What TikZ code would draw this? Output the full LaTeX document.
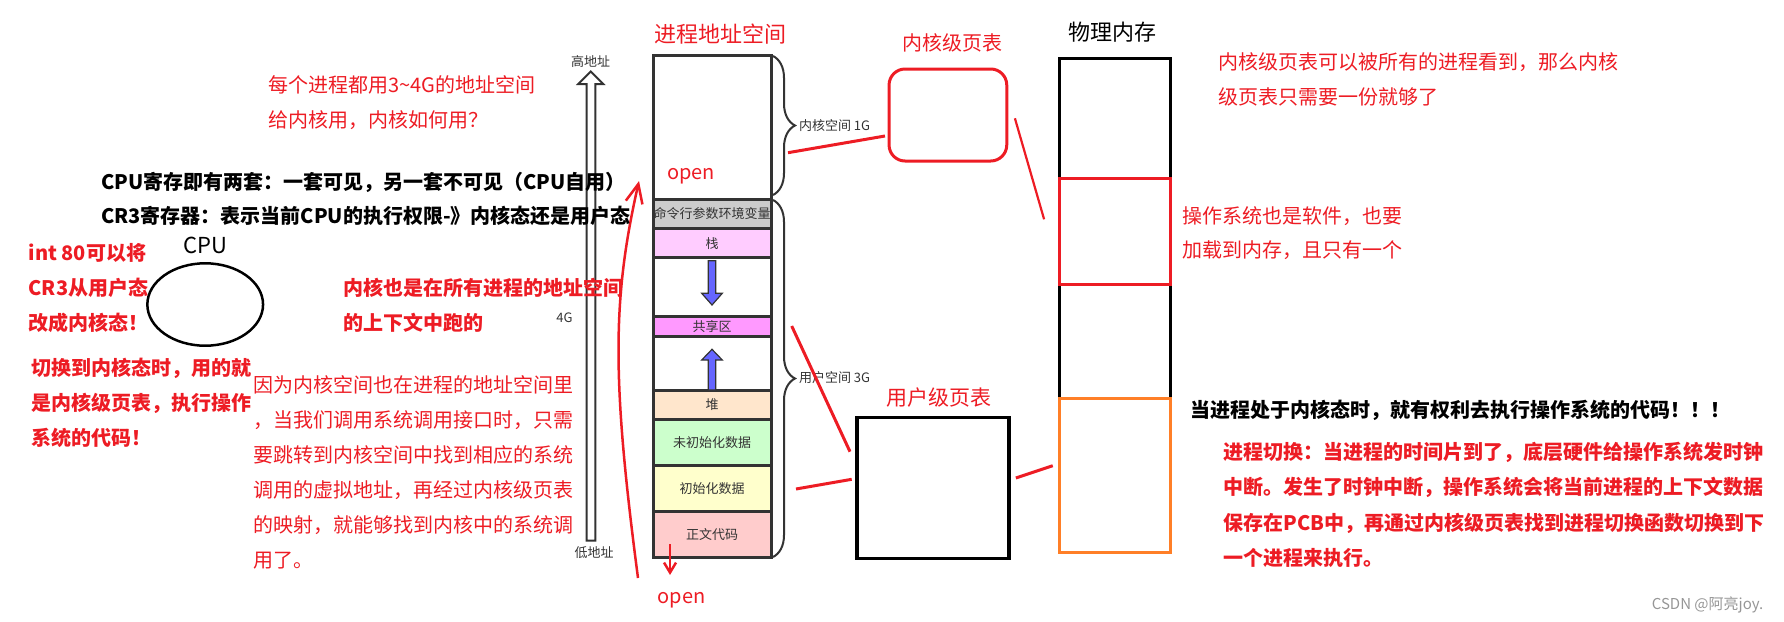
\documentclass[tikz,border=0pt]{standalone}
\usepackage{fontspec}
\setmainfont{Noto Sans CJK SC}
\usetikzlibrary{decorations.pathreplacing,arrows.meta,shapes.geometric}
\definecolor{pred}{RGB}{237,28,36}
\definecolor{porange}{RGB}{255,127,39}
\definecolor{dgray}{RGB}{51,51,51}
\definecolor{cmdgray}{RGB}{204,204,204}
\definecolor{stackc}{RGB}{255,204,255}
\definecolor{sharec}{RGB}{255,153,255}
\definecolor{heapc}{RGB}{255,230,204}
\definecolor{bssc}{RGB}{204,255,204}
\definecolor{datac}{RGB}{255,255,204}
\definecolor{codec}{RGB}{255,204,204}
\definecolor{arrowblue}{RGB}{102,102,255}
\definecolor{wmgray}{RGB}{150,150,150}
\begin{document}
\begin{tikzpicture}[x=1pt,y=-1pt,
  every node/.style={inner sep=0pt,outer sep=0pt},
  note/.style={anchor=base west,align=left,font=\fontsize{20}{35}\selectfont},
  notebold/.style={note,font=\fontsize{20}{35}\selectfont\bfseries},
  small/.style={font=\fontsize{13}{15}\selectfont,text=dgray},
  seg/.style={draw=dgray,line width=3pt,minimum width=118pt},
  barrow/.style={draw=dgray,line width=1.2pt,fill=arrowblue,line join=miter},
  bracestyle/.style={draw=dgray,line width=2pt,decorate,decoration={brace,amplitude=22pt}},
  redline/.style={draw=pred,line width=3pt},
  title/.style={font=\fontsize{21}{24}\selectfont}
]
\useasboundingbox (0,0) rectangle (1784,621);

% ---------- address arrow ----------
\draw[dgray,line width=2pt,line join=miter]
  (586.7,540.5) -- (586.7,84) -- (578.3,84) -- (590.8,71.5) -- (603.3,84)
  -- (595.3,84) -- (595.3,540.5) -- cycle;
\node[small,anchor=center] (hi) at (590.7,61.7) {高地址};
\node[small,anchor=center] (lo) at (594,552.3) {低地址};
\node[small,anchor=center] (fourg) at (564.5,317.3) {4G};

% ---------- process address space ----------
\node[title,text=pred] (pastitle) at (720,34) {\fontsize{22}{24}\selectfont 进程地址空间};
\node[seg,minimum height=143.6pt] (kspace) at (712,127.5) {};
\node[seg,fill=cmdgray,minimum height=29.4pt,small] (cmd) at (712,214) {命令行参数环境变量};
\node[seg,fill=stackc,minimum height=29pt,small] (stack) at (712,243.2) {栈};
\node[seg,minimum height=59pt] (gapa) at (712,287.2) {};
\node[seg,fill=sharec,minimum height=20pt,small] (share) at (712,326.7) {共享区};
\node[seg,minimum height=54pt] (gapb) at (712,363.7) {};
\node[seg,fill=heapc,minimum height=28.6pt,small] (heap) at (712,405) {堆};
\node[seg,fill=bssc,minimum height=46.4pt,small] (bss) at (712,442.5) {未初始化数据};
\node[seg,fill=datac,minimum height=46pt,small] (data) at (712,488.7) {初始化数据};
\node[seg,fill=codec,minimum height=46pt,small] (code) at (712,534.7) {正文代码};

% blue growth arrows
\draw[barrow] (708.3,260.7) -- (715.7,260.7) -- (715.7,293.3) -- (722.3,293.3)
  -- (712,305) -- (701.7,293.3) -- (708.3,293.3) -- cycle;
\draw[barrow] (708.3,390) -- (708.3,360) -- (701.7,360) -- (712,349.3)
  -- (722.3,360) -- (715.7,360) -- (715.7,390) -- cycle;

% braces
\draw[bracestyle] (773,56) -- (773,195);
\draw[bracestyle] (773,200) -- (773,557);
\node[small,anchor=west] (kslabel) at (799,126) {内核空间 1G};
\node[small,anchor=west] (uslabel) at (799,377.3) {用户空间 3G};

% open labels and red arrows
\node[text=pred,font=\fontsize{20}{24}\selectfont] (openup) at (691,176.7) {open};
\node[text=pred,font=\fontsize{20}{24}\selectfont] (opendown) at (681.5,600) {open};
\coordinate (cs) at (638,578);
\coordinate (ct) at (639,181);
\draw[pred,line width=2.5pt,-{Straight Barb[length=19pt,width=17pt]}]
  (cs) .. controls (612,380) and (612,300) .. (ct);
\coordinate (ds) at (670,544);
\coordinate (dt) at (670,575);
\draw[pred,line width=2.5pt,-{Straight Barb[length=10pt,width=12pt]}] (ds) -- (dt);

% ---------- page tables ----------
\node[draw=pred,line width=3pt,rounded corners=16pt,minimum width=117.7pt,minimum height=92pt] (kpt) at (947.9,115) {};
\node[title,text=pred,font=\fontsize{20}{24}\selectfont] (kptl) at (952,43) {内核级页表};
\node[draw=black,line width=3.5pt,minimum width=152pt,minimum height=141pt] (upt) at (933,487.8) {};
\node[title,text=pred] (uptl) at (939,397.7) {用户级页表};

% ---------- physical memory ----------
\node[title,font=\fontsize{22}{24}\selectfont] (pml) at (1112.3,31.7) {物理内存};
\node[draw=black,line width=3pt,minimum width=111.3pt,minimum height=494.4pt] (pm) at (1115.15,305.5) {};
\node[draw=pred,line width=3pt,minimum width=111.3pt,minimum height=105.7pt] (osreg) at (1115.15,231.15) {};
\node[draw=porange,line width=3pt,minimum width=111.3pt,minimum height=154.4pt] (procreg) at (1115.15,475.5) {};

% red mapping lines
\coordinate (ka) at (788,152.7);
\coordinate (kb) at (885,136);
\draw[redline] (ka) -- (kb);
\coordinate (kc) at (1014.9,118.3);
\coordinate (kd) at (1044.1,219.3);
\draw[pred,line width=2.2pt] (kc) -- (kd);
\coordinate (ua) at (791.7,326);
\coordinate (ub) at (850,451.7);
\draw[redline] (ua) -- (ub);
\coordinate (uc) at (796,489);
\coordinate (ud) at (851.7,479.3);
\draw[redline] (uc) -- (ud);
\coordinate (ue) at (1015.9,478);
\coordinate (uf) at (1052.8,465.7);
\draw[redline] (ue) -- (uf);

% ---------- CPU ----------
\node[font=\fontsize{22}{24}\selectfont] (cpul) at (205,245) {CPU};
\node[draw=black,line width=2.5pt,ellipse,minimum width=115.7pt,minimum height=82.4pt] (cpu) at (205.2,304.5) {};

% ---------- notes (anchor = baseline of the last line) ----------
\node[note,text=pred] (n1) at (268.5,127.6) {每个进程都用3\textasciitilde4G的地址空间\\给内核用，内核如何用？};
\node[notebold,font=\fontsize{20}{34}\selectfont\bfseries] (n2) at (101,223.3) {CPU寄存即有两套：一套可见，另一套不可见（CPU自用）\\CR3寄存器：表示当前CPU的执行权限-》内核态还是用户态};
\node[notebold,text=pred] (n3) at (28.6,330.9) {int 80可以将\\CR3从用户态\\改成内核态！};
\node[notebold,text=pred] (n4) at (31.6,445.9) {切换到内核态时，用的就\\是内核级页表，执行操作\\系统的代码！};
\node[notebold,text=pred] (n5) at (343,330.9) {内核也是在所有进程的地址空间\\的上下文中跑的};
\node[note,text=pred] (n6) at (253.8,567.6) {因为内核空间也在进程的地址空间里\\，当我们调用系统调用接口时，只需\\要跳转到内核空间中找到相应的系统\\调用的虚拟地址，再经过内核级页表\\的映射，就能够找到内核中的系统调\\用了。};
\node[note,text=pred] (n7) at (1218.5,104.3) {内核级页表可以被所有的进程看到，那么内核\\级页表只需要一份就够了};
\node[note,text=pred,font=\fontsize{20}{34}\selectfont] (n8) at (1182.6,257.6) {操作系统也是软件，也要\\加载到内存，且只有一个};
\node[notebold] (n9) at (1190,417.6) {当进程处于内核态时，就有权利去执行操作系统的代码！！！};
\node[notebold,text=pred,font=\fontsize{20}{35.5}\selectfont\bfseries] (n10) at (1223.6,565.8) {进程切换：当进程的时间片到了，底层硬件给操作系统发时钟\\中断。发生了时钟中断，操作系统会将当前进程的上下文数据\\保存在PCB中，再通过内核级页表找到进程切换函数切换到下\\一个进程来执行。};
\node[anchor=west,font=\fontsize{15}{18}\selectfont,text=wmgray] (csdn) at (1651.8,605) {CSDN @阿亮joy.};
\end{tikzpicture}
\end{document}
